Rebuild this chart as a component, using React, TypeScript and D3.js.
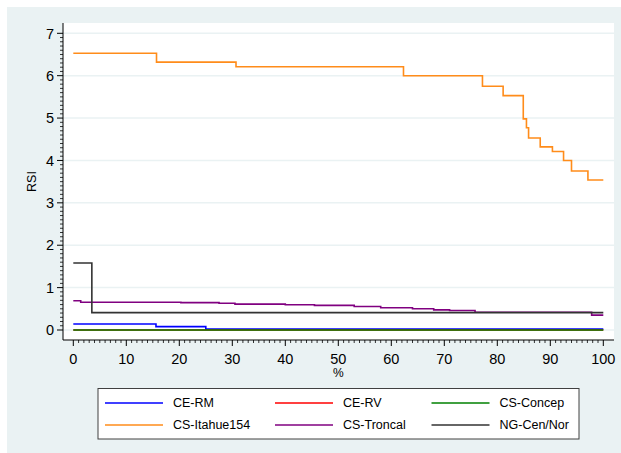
import React from "react";
import * as d3 from "d3";

// Series: step curves of RSI against cumulative percentage
const seriesNames = ["CE-RM", "CE-RV", "CS-Concep", "CS-Itahue154", "CS-Troncal", "NG-Cen/Nor"];
const seriesColors = ["#0000ff", "#ff0000", "#008000", "#ff8c1a", "#800080", "#333333"];

const ceRM: [number, number][] = [[0, 0.14], [15.6, 0.08], [25, 0.02], [100, 0.02]];
const ceRV: [number, number][] = [[0, 0], [100, 0]];
const csConcep: [number, number][] = [[0, 0], [100, 0]];
const csItahue154: [number, number][] = [
  [0, 6.53], [15.7, 6.32], [30.7, 6.21], [62.3, 6.0], [77.2, 5.75], [81.1, 5.53],
  [84.9, 4.98], [85.5, 4.77], [85.9, 4.53], [88.1, 4.32], [90.4, 4.21], [92.5, 4.0],
  [94.0, 3.75], [97.1, 3.54], [100, 3.54],
];
const csTroncal: [number, number][] = [
  [0, 0.69], [1.4, 0.655], [20.3, 0.645], [27.5, 0.63], [30.5, 0.61], [40, 0.595],
  [45.5, 0.58], [53, 0.555], [58, 0.525], [64, 0.5], [68, 0.475], [71, 0.46],
  [75.8, 0.42], [97.8, 0.35], [100, 0.35],
];
const ngCenNor: [number, number][] = [[0, 1.58], [3.5, 0.41], [100, 0.41]];

const seriesData = [ceRM, ceRV, csConcep, csItahue154, csTroncal, ngCenNor];

const xTicks = [0, 10, 20, 30, 40, 50, 60, 70, 80, 90, 100];
const yTicks = [0, 1, 2, 3, 4, 5, 6, 7];
const xTitle = "%";
const yTitle = "RSI";

export default function App() {
  const W = 621;
  const H = 453;
  const plotLeft = 63;
  const plotRight = 614;
  const plotTop = 23;
  const plotBottom = 340;

  const x = d3.scaleLinear().domain([0, 100]).range([73.3, 603.3]);
  const y = d3.scaleLinear().domain([0, 7]).range([330, 33.3]);

  const line = d3
    .line<[number, number]>()
    .x((d) => x(d[0]))
    .y((d) => y(d[1]))
    .curve(d3.curveStepAfter);

  const xMinor = d3.range(0, 101, 1).filter((v) => v % 10 !== 0);
  const yMinor = d3.range(0, 71, 1).map((v) => v / 10).filter((v) => Math.abs(v - Math.round(v)) > 1e-6);

  const font = "'Liberation Sans', Arial, sans-serif";
  const axisColor = "#000000";

  // legend layout: 3 columns x 2 rows
  const legCols = [105, 275, 431.5];
  const legRows = [403, 425];

  return (
    <svg
      width={W}
      height={H}
      style={{ position: "absolute", left: 0, top: 0, display: "block" }}
      fontFamily={font}
    >
      <rect x={0} y={0} width={W} height={H} fill="#ffffff" />
      <rect x={7} y={7} width={W - 7} height={H - 7} fill="#eaf2f3" />
      <rect x={plotLeft} y={plotTop} width={plotRight - plotLeft} height={plotBottom - plotTop} fill="#ffffff" />

      {/* gridlines */}
      {yTicks.map((t) => (
        <line key={"g" + t} x1={plotLeft} x2={plotRight} y1={y(t)} y2={y(t)} stroke="#eaf2f3" strokeWidth={1.5} />
      ))}

      {/* data */}
      {seriesData.map((d, i) => (
        <path key={seriesNames[i]} d={line(d) || ""} fill="none" stroke={seriesColors[i]} strokeWidth={1.6} />
      ))}

      {/* y axis */}
      <line x1={plotLeft} x2={plotLeft} y1={plotTop} y2={plotBottom} stroke={axisColor} strokeWidth={1} />
      {yMinor.map((t) => (
        <line key={"ym" + t} x1={plotLeft - 3} x2={plotLeft} y1={y(t)} y2={y(t)} stroke={axisColor} strokeWidth={0.8} />
      ))}
      {yTicks.map((t) => (
        <g key={"y" + t}>
          <line x1={plotLeft - 6} x2={plotLeft} y1={y(t)} y2={y(t)} stroke={axisColor} strokeWidth={1} />
          <text x={54} y={y(t) + 5.2} textAnchor="end" fontSize={14.5} fill="#000">
            {t}
          </text>
        </g>
      ))}
      <text
        transform={`translate(${36},${(plotTop + plotBottom) / 2}) rotate(-90)`}
        textAnchor="middle"
        fontSize={12.5}
        fill="#000"
      >
        {yTitle}
      </text>

      {/* x axis */}
      <line x1={plotLeft} x2={plotRight} y1={plotBottom} y2={plotBottom} stroke={axisColor} strokeWidth={1} />
      {xMinor.map((t) => (
        <line key={"xm" + t} x1={x(t)} x2={x(t)} y1={plotBottom} y2={plotBottom + 3} stroke={axisColor} strokeWidth={0.8} />
      ))}
      {xTicks.map((t) => (
        <g key={"x" + t}>
          <line x1={x(t)} x2={x(t)} y1={plotBottom} y2={plotBottom + 6} stroke={axisColor} strokeWidth={1} />
          <text x={x(t)} y={363.5} textAnchor="middle" fontSize={14.5} fill="#000">
            {t}
          </text>
        </g>
      ))}
      <text x={(x(0) + x(100)) / 2} y={377} textAnchor="middle" fontSize={12} fill="#000">
        {xTitle}
      </text>

      {/* legend */}
      <rect x={98} y={388.5} width={481} height={50.5} fill="#ffffff" stroke="#404040" strokeWidth={1} />
      {seriesNames.map((name, i) => {
        const col = i % 3;
        const row = Math.floor(i / 3);
        const lx = legCols[col];
        const ly = legRows[row];
        return (
          <g key={"leg" + name}>
            <line x1={lx} x2={lx + 58} y1={ly} y2={ly} stroke={seriesColors[i]} strokeWidth={1.6} />
            <text x={lx + 68} y={ly + 4.3} fontSize={12.5} fill="#000">
              {name}
            </text>
          </g>
        );
      })}
    </svg>
  );
}
